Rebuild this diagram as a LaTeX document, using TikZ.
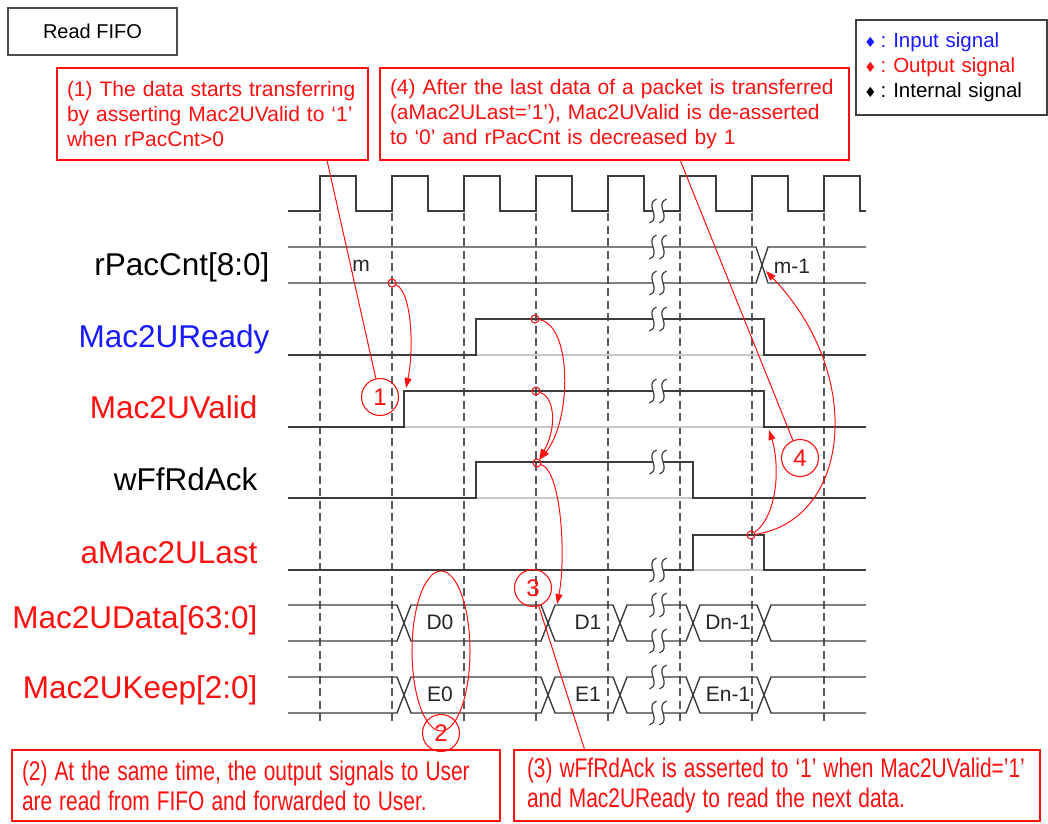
\documentclass[tikz,border=0pt]{standalone}
\usepackage{fontspec}
\usepackage{graphicx}
\setmainfont{Liberation Sans}
\newfontfamily\symbfont{DejaVu Sans}
\usetikzlibrary{arrows.meta,calc,positioning}
\definecolor{wfRed}{HTML}{FF1010}
\definecolor{wfBlue}{HTML}{1A1AFF}
\definecolor{wfGray}{HTML}{3C3C3C}
\definecolor{wfLight}{HTML}{C8C8C8}
\definecolor{wfDash}{HTML}{5A5A5A}

% "ss" break mark on a waveform line
\newcommand{\wavebreak}[2]{%
  \fill[white] ({#1-5},{#2-9}) rectangle ({#1+5},{#2+9});
  \foreach \dx in {-5,5}
    \draw[wfGray, line width=1.2pt]
      ({#1+(\dx)+3.5},{#2-12}) .. controls ({#1+(\dx)-9},{#2-7}) and ({#1+(\dx)+9},{#2+7}) .. ({#1+(\dx)-3.5},{#2+12});
}
% condensed line for the lower notes
\newcommand{\narrowline}[1]{\scalebox{0.775}[1]{#1}}
% legend bullet
\newcommand{\legdot}{{\symbfont\fontsize{14}{14}\selectfont ♦}\hspace{4pt}:\hspace{7pt}}

\begin{document}
\begin{tikzpicture}[x=1pt, y=-1pt,
    wave/.style={draw=wfGray, line width=1.4pt},
    ghost/.style={draw=wfLight, line width=1.4pt},
    guide/.style={draw=wfDash, line width=1.3pt, dash pattern=on 8pt off 4.5pt},
    sig/.style={anchor=base east, font=\fontsize{31.5}{36}\selectfont},
    val/.style={font=\fontsize{21}{24}\selectfont, text=black!85},
    note/.style={draw=wfRed, line width=1.2pt, text=wfRed, align=left, inner xsep=10pt,
                 font=\fontsize{21}{25}\selectfont},
    lownote/.style={note, font=\fontsize{27}{30}\selectfont},
    tag/.style={circle, draw=wfRed, line width=1.1pt, text=wfRed, minimum size=37pt,
                inner sep=0pt, font=\fontsize{24}{24}\selectfont},
    marker/.style={circle, draw=wfRed, line width=1.1pt, minimum size=8pt, inner sep=0pt},
    link/.style={draw=wfRed, line width=1pt},
    hit/.style={link, -{Triangle[length=10pt,width=7pt]}}]

    \fill[white] (0,0) rectangle (1048,823);
    \useasboundingbox (0,0) rectangle (1048,823);

    % === Title and legend ===
    \node[draw=black!70, line width=1.3pt, minimum width=169pt, minimum height=47pt,
          font=\fontsize{20}{24}\selectfont] (title) at (92.5,31.5) {Read FIFO};
    \node[draw=black!75, line width=1.3pt, minimum width=187pt, minimum height=95pt,
          text width=175pt, inner xsep=8pt, align=left,
          font=\fontsize{20.5}{25}\selectfont] (legend) at (951.5,67.5)
      {\textcolor{wfBlue}{\legdot Input signal}\\
       \textcolor{wfRed}{\legdot Output signal}\\
       \legdot Internal signal};

    % === Clock edges (dashed guides) ===
    \foreach \k in {0,...,7}
      \draw[guide] ({320+72*\k},213) -- ({320+72*\k},722);

    % === Clock ===
    \draw[wave] (288,211) foreach \k in {0,...,7} {
        -- ({320+72*\k},211) |- ({356+72*\k},176) -- ({356+72*\k},211) } -- (866,211);

    % === rPacCnt ===
    \draw[wave] (288,247) -- (756,247) -- (768,283) -- (866,283);
    \draw[wave] (288,283) -- (756,283) -- (768,247) -- (866,247);

    % === single-bit signals (grey baseline while high) ===
    \draw[ghost] (476,355) -- (764,355);
    \draw[wave] (288,355) -- (476,355) -- (476,319) -- (764,319) -- (764,355) -- (866,355);
    \draw[ghost] (404,427) -- (764,427);
    \draw[wave] (288,427) -- (404,427) -- (404,391) -- (764,391) -- (764,427) -- (866,427);
    \draw[ghost] (476,498) -- (693,498);
    \draw[wave] (288,498) -- (476,498) -- (476,462) -- (693,462) -- (693,498) -- (866,498);
    \draw[ghost] (693,570) -- (764,570);
    \draw[wave] (288,570) -- (693,570) -- (693,535) -- (764,535) -- (764,570) -- (866,570);

    % === buses ===
    \foreach \yt/\yb in {605/641, 677/713} {
      \draw[wave] (288,\yt) -- (397,\yt) -- (411,\yb) -- (541,\yb) -- (555,\yt) -- (613,\yt)
        -- (627,\yb) -- (686,\yb) -- (700,\yt) -- (757,\yt) -- (771,\yb) -- (866,\yb);
      \draw[wave] (288,\yb) -- (397,\yb) -- (411,\yt) -- (541,\yt) -- (555,\yb) -- (613,\yb)
        -- (627,\yt) -- (686,\yt) -- (700,\yb) -- (757,\yb) -- (771,\yt) -- (866,\yt);
    }

    % === time breaks ===
    \foreach \y in {211,247,283,319,391,462,570,605,641,677,713} {
      \wavebreak{658}{\y}
    }

    % === signal names ===
    \node[sig] (lPac) at (273,275) {rPacCnt[8:0]};
    \node[sig, text=wfBlue] (lRdy) at (273,347) {Mac2UReady};
    \node[sig, text=wfRed] (lVld) at (261,418) {Mac2UValid};
    \node[sig] (lAck) at (261,490) {wFfRdAck};
    \node[sig, text=wfRed] (lLst) at (261,563) {aMac2ULast};
    \node[sig, text=wfRed] (lDat) at (261,628) {Mac2UData[63:0]};
    \node[sig, text=wfRed] (lKep) at (261,698) {Mac2UKeep[2:0]};

    % === bus values ===
    \node[val] (vM)  at (361,266) {m};
    \node[val] (vM1) at (792,266) {m-1};
    \node[val] (vD0) at (440,622) {D0};
    \node[val] (vD1) at (588,622) {D1};
    \node[val] (vDn) at (728,622) {Dn-1};
    \node[val] (vE0) at (440,694) {E0};
    \node[val] (vE1) at (588,694) {E1};
    \node[val] (vEn) at (728,694) {En-1};

    % === notes ===
    \node[note, minimum width=311pt, minimum height=92pt, text width=291pt] (n1) at (212.5,114)
      {(1) The data starts transferring\\by asserting Mac2UValid to ‘1’\\when rPacCnt>0};
    \node[note, minimum width=469pt, minimum height=92pt, text width=449pt] (n4) at (614.5,114)
      {(4) After the last data of a packet is transferred\\(aMac2ULast='1'), Mac2UValid is de-asserted\\to ‘0’ and rPacCnt is decreased by 1};
    \node[lownote, minimum width=488pt, minimum height=71pt, text width=468pt] (n2) at (256,785.5)
      {\narrowline{(2) At the same time, the output signals to User}\\
       \narrowline{are read from FIFO and forwarded to User.}};
    \node[lownote, minimum width=526pt, minimum height=71pt, text width=500pt, inner xsep=13pt] (n3) at (777,785.5)
      {\narrowline{(3) wFfRdAck is asserted to ‘1’ when Mac2UValid=’1’}\\
       \narrowline{and Mac2UReady to read the next data.}};

    % === markers and targets ===
    \node[marker] (mPac) at (392,283) {};
    \node[marker] (mRdy) at (535,319) {};
    \node[marker] (mVld) at (536,391) {};
    \node[marker] (mAck) at (537,463) {};
    \node[marker] (mLst) at (751,535) {};
    \coordinate (tVld)  at (406,388);
    \coordinate (tD1)   at (557,604);
    \coordinate (tVldF) at (769,430);
    \coordinate (tPac)  at (766,271);

    % === numbered tags ===
    \node[tag] (c1) at (380,397) {1};
    \node[tag] (c2) at (441,733) {2};
    \node[tag] (c3) at (533,588) {3};
    \node[tag] (c4) at (800,458) {4};
    \draw[link] (441,651) ellipse (29 and 80);

    % === connectors ===
    \draw[link] (c1) -- ($(n1.south west)!0.867!(n1.south east)$);
    \draw[link] (c4) -- ($(n4.south west)!0.64!(n4.south east)$);
    \draw[link] (c3) -- ($(n3.north west)!0.135!(n3.north east)$);
    \draw[hit] (mPac) .. controls (412,292) and (414,350) .. (tVld);
    \draw[hit] (mRdy) .. controls (572,325) and (572,420) .. (mAck);
    \draw[hit] (mVld) .. controls (556,398) and (556,430) .. (mAck);
    \draw[hit] (mAck) .. controls (562,472) and (566,560) .. (tD1);
    \draw[hit] (mLst) .. controls (778,515) and (780,465) .. (tVldF);
    \draw[hit] (mLst) .. controls (850,520) and (866,375) .. (tPac);
\end{tikzpicture}
\end{document}
